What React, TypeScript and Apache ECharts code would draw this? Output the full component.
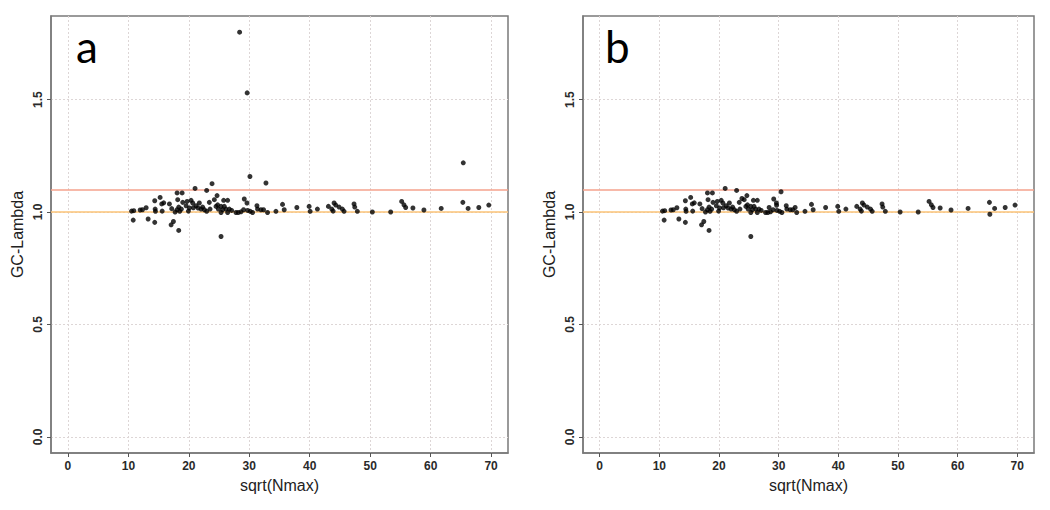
import React, { useEffect, useRef } from "react";
import * as echarts from "echarts";

// Points shared by both panels (sqrt(Nmax), GC-Lambda)
const commonX = [
  10.52, 10.9, 10.8, 11.95, 12.33, 12.94, 13.27, 14.36, 14.36, 14.43, 14.48, 15.25, 15.59, 15.52, 15.85,
  16.79, 17.17, 17.07, 17.45, 17.73, 18.06, 18.89, 18.16, 18.33, 18.33, 18.06, 18.77, 18.49, 18.99, 19.71,
  19.55, 20.09, 19.93, 20.37, 21.03, 20.64, 20.75, 21.2, 21.53, 21.74, 22.02, 22.29, 22.57, 22.95, 22.95,
  23.39, 23.51, 24.22, 24.5, 24.67, 25.76, 26.42, 24.77, 25.33, 25.87, 24.88, 25.59, 26.15, 26.7, 27.08,
  25.33, 26.42, 27.8, 28.18, 28.63, 29.17, 29.62, 29.06, 29.72, 30.16, 30.54, 31.27, 31.37, 31.93, 32.36,
  33.02, 34.41, 35.5, 35.78, 37.87, 39.9, 40.07, 41.27, 43.09, 43.65, 44.03, 44.31, 43.87, 44.86, 45.4,
  45.68, 47.33, 47.45, 47.88, 50.36, 53.39, 55.21, 55.59, 55.87, 57.07, 58.89, 61.75, 65.33, 66.2, 67.97,
  69.62, 25.33,
];
const commonY = [
  1.004, 1.006, 0.964, 1.009, 1.01, 1.019, 0.969, 0.954, 1.05, 1.013, 1.003, 1.065, 1.004, 1.036, 1.041,
  1.036, 1.015, 0.943, 0.958, 1.0, 1.085, 1.085, 1.055, 1.022, 0.918, 1.01, 1.013, 1.003, 1.043, 1.047,
  1.028, 1.018, 1.004, 1.052, 1.105, 1.04, 1.019, 1.028, 1.018, 1.04, 1.013, 1.022, 1.01, 1.096, 1.003,
  1.043, 1.013, 1.055, 1.025, 1.073, 1.052, 1.052, 1.032, 1.025, 1.025, 1.013, 1.01, 1.013, 1.013, 1.007,
  0.998, 0.998, 0.998, 0.998, 1.001, 1.058, 1.04, 1.01, 1.007, 1.003, 0.998, 1.028, 1.013, 1.01, 1.01,
  0.998, 1.003, 1.034, 1.01, 1.02, 1.025, 1.003, 1.013, 1.025, 1.013, 1.04, 1.031, 1.004, 1.022, 1.013,
  1.003, 1.036, 1.022, 1.003, 1.0, 1.0, 1.047, 1.032, 1.02, 1.018, 1.009, 1.016, 1.043, 1.016, 1.02,
  1.031, 0.891,
];

// Points only in panel a (uncorrected values)
const aOnlyX = [23.84, 28.4, 29.65, 30.11, 32.76, 65.4];
const aOnlyY = [1.126, 1.8, 1.53, 1.158, 1.129, 1.219];

// Points only in panel b (corrected values)
const bOnlyX = [23.84, 28.4, 29.65, 30.4, 32.76, 65.4];
const bOnlyY = [1.06, 1.02, 1.03, 1.09, 1.02, 0.99];

const xTicks = [0, 10, 20, 30, 40, 50, 60, 70];
const yTicks = [0, 0.5, 1.0, 1.5];
const refLines = [1.1, 1.0];
const panelLabels = ["a", "b"];

const pairs = (xs: number[], ys: number[]) => xs.map((x, i) => [x, ys[i]]);

export default function App() {
  const ref = useRef<HTMLDivElement>(null);
  useEffect(() => {
    document.body.style.margin = "0";
    const chart = echarts.init(ref.current!, null, { renderer: "svg" });
    const tickFont = {
      fontFamily: "Liberation Sans",
      fontSize: 12,
      fontWeight: "bold" as const,
      color: "#2a2a2a",
    };
    const grids = [
      { left: 51, top: 16, width: 457, height: 437 },
      { left: 583, top: 16, width: 451, height: 437 },
    ];
    const xAxis = grids.map((_, i) => ({
      type: "value" as const,
      gridIndex: i,
      min: -2.8,
      max: 72.8,
      name: "sqrt(Nmax)",
      nameLocation: "middle" as const,
      nameGap: 24,
      nameTextStyle: { fontFamily: "Liberation Sans", fontSize: 16, color: "#222" },
      axisLine: { show: true, onZero: false, lineStyle: { color: "#7a7a7a", width: 1.5 } },
      axisTick: { show: true, length: 4, customValues: xTicks, lineStyle: { color: "#555" } },
      axisLabel: { ...tickFont, margin: 7, customValues: xTicks, formatter: (v: number) => String(v) },
      splitLine: { show: true, lineStyle: { color: "#ddd6d6", type: [2, 2], width: 1 } },
    }));
    const yAxis = grids.map((_, i) => ({
      type: "value" as const,
      gridIndex: i,
      min: -0.072,
      max: 1.872,
      name: "GC-Lambda",
      nameLocation: "middle" as const,
      nameGap: 26,
      nameTextStyle: { fontFamily: "Liberation Sans", fontSize: 16, color: "#222" },
      axisLine: { show: true, onZero: false, lineStyle: { color: "#7a7a7a", width: 1.5 } },
      axisTick: { show: true, length: 4, customValues: yTicks, lineStyle: { color: "#555" } },
      axisLabel: {
        ...tickFont,
        rotate: 90,
        margin: 7,
        customValues: yTicks,
        formatter: (v: number) => v.toFixed(1),
      },
      splitLine: { show: true, lineStyle: { color: "#ddd6d6", type: [2, 2], width: 1 } },
    }));
    const panelData = [
      pairs(commonX, commonY).concat(pairs(aOnlyX, aOnlyY)),
      pairs(commonX, commonY).concat(pairs(bOnlyX, bOnlyY)),
    ];
    const series: any[] = [];
    grids.forEach((_, i) => {
      series.push({
        type: "line",
        xAxisIndex: i,
        yAxisIndex: i,
        data: [],
        z: 1,
        markLine: {
          silent: true,
          symbol: ["none", "none"],
          label: { show: false },
          data: [
            { yAxis: refLines[0], lineStyle: { color: "#f5a28c", width: 1.6, type: "solid" } },
            { yAxis: refLines[1], lineStyle: { color: "#fbc377", width: 1.6, type: "solid" } },
          ],
        },
      });
      series.push({
        type: "scatter",
        xAxisIndex: i,
        yAxisIndex: i,
        z: 5,
        symbol: "circle",
        symbolSize: 5,
        itemStyle: { color: "#000" },
        data: panelData[i],
      });
    });
    chart.setOption({
      animation: false,
      backgroundColor: "#fff",
      grid: grids.map((g) => ({ ...g, show: true, borderColor: "#7a7a7a", borderWidth: 1.5 })),
      xAxis,
      yAxis,
      series,
      graphic: panelLabels.map((t, i) => ({
        type: "text",
        left: i === 0 ? 76 : 605,
        top: 24,
        style: { text: t, fontFamily: "Lato", fontSize: 44, fill: "#000" },
      })),
    });
    return () => chart.dispose();
  }, []);
  return <div ref={ref} style={{ width: 1050, height: 510 }} />;
}
